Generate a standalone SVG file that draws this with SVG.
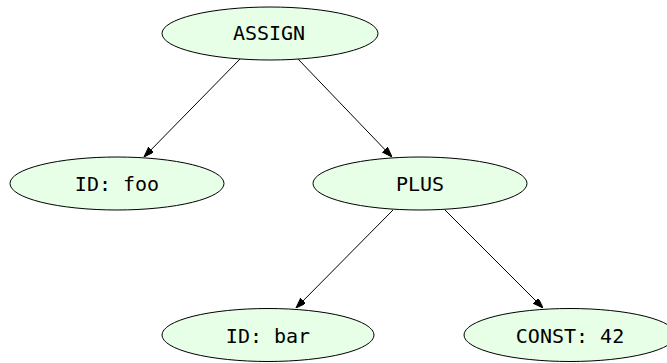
<svg xmlns="http://www.w3.org/2000/svg" width="667" height="363" viewBox="0 0 667 363">
  <style>
    .node ellipse { fill: #e6ffe6; stroke: #000; stroke-width: 1; }
    .node text { font-family: "DejaVu Sans Mono", "Liberation Mono", monospace; font-size: 20px; fill: #000; text-anchor: middle; }
    .edge { stroke: #000; stroke-width: 1; fill: none; marker-end: url(#arrow); }
  </style>
  <defs>
    <marker id="arrow" markerUnits="userSpaceOnUse" markerWidth="10" markerHeight="8" refX="10" refY="3.5" orient="auto">
      <path d="M0,0 L10,3.5 L0,7 z" fill="#000" stroke="#000" stroke-width="1"/>
    </marker>
  </defs>
  <rect width="667" height="363" fill="#fff"/>
  <g id="connectors">
    <path class="edge" d="M240,59 L144,157"/>
    <path class="edge" d="M298,59 L392,157"/>
    <path class="edge" d="M393,210 L296,308"/>
    <path class="edge" d="M445,210 L543,308"/>
  </g>
  <g id="node-assign" class="node">
    <ellipse cx="270" cy="33.5" rx="108" ry="26.5"/>
    <text x="269" y="40">ASSIGN</text>
  </g>
  <g id="node-id-foo" class="node">
    <ellipse cx="117" cy="183.5" rx="107" ry="26.5"/>
    <text x="117" y="191">ID: foo</text>
  </g>
  <g id="node-plus" class="node">
    <ellipse cx="420" cy="183.5" rx="107" ry="26.5"/>
    <text x="420" y="191">PLUS</text>
  </g>
  <g id="node-id-bar" class="node">
    <ellipse cx="268" cy="335" rx="106" ry="26.5"/>
    <text x="268" y="342.5">ID: bar</text>
  </g>
  <g id="node-const" class="node">
    <ellipse cx="570" cy="335" rx="106" ry="26.5"/>
    <text x="570" y="342.5">CONST: 42</text>
  </g>
</svg>
